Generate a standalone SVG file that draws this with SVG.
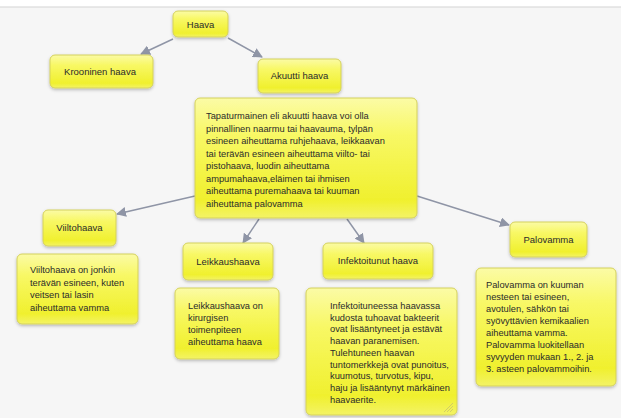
<svg xmlns="http://www.w3.org/2000/svg" width="621" height="418" viewBox="0 0 621 418">
  <defs>
    <linearGradient id="yel" x1="0" y1="0" x2="0" y2="1">
      <stop offset="0" stop-color="#fbfba6"/>
      <stop offset="0.3" stop-color="#f8f866"/>
      <stop offset="0.85" stop-color="#f0f02e"/>
      <stop offset="1" stop-color="#f3f366"/>
    </linearGradient>
    <filter id="sh" x="-10%" y="-10%" width="120%" height="130%">
      <feDropShadow dx="0" dy="1.5" stdDeviation="1.5" flood-color="#000" flood-opacity="0.25"/>
    </filter>
    <marker id="arr" viewBox="0 0 10 10" refX="9" refY="5" markerWidth="10" markerHeight="10" markerUnits="userSpaceOnUse" orient="auto">
      <path d="M0,0 L10,5 L0,10 z" fill="#8f95a6"/>
    </marker>
  </defs>
  <style>
    .box { fill: url(#yel); stroke: #d4d15c; stroke-width: 1; filter: url(#sh); }
    .t { font-family: "Liberation Sans", Arial, sans-serif; font-size: 9.3px; fill: #2b2b2b; }
    .h { font-family: "Liberation Sans", Arial, sans-serif; font-size: 9.5px; fill: #2b2b2b; text-anchor: middle; }
    .c { stroke: #8f95a6; stroke-width: 1.5; fill: none; marker-end: url(#arr); }
  </style>

  <rect x="0" y="0" width="621" height="418" fill="#ffffff"/>
  <rect x="0" y="7" width="621" height="411" fill="#f6f6f6"/>
  <line x1="0" y1="7" x2="621" y2="7" stroke="#d4d4d4" stroke-width="1.2"/>

  <g id="connectors">
    <line class="c" x1="173" y1="39" x2="141" y2="54"/>
    <line class="c" x1="228" y1="38" x2="262" y2="57"/>
    <line class="c" x1="195" y1="196" x2="117" y2="214"/>
    <line class="c" x1="259" y1="219" x2="243" y2="243"/>
    <line class="c" x1="347" y1="219" x2="364" y2="243"/>
    <line class="c" x1="417" y1="196" x2="509" y2="225"/>
  </g>

  <g id="haava">
    <rect class="box" x="173" y="11" width="55" height="26" rx="5"/>
    <text class="h" x="200.5" y="27.5">Haava</text>
  </g>

  <g id="krooninen">
    <rect class="box" x="50" y="55" width="103" height="33" rx="5"/>
    <text class="h" x="100" y="75">Krooninen haava</text>
  </g>

  <g id="akuutti">
    <rect class="box" x="258" y="59" width="83" height="34" rx="5"/>
    <text class="h" x="299.5" y="79">Akuutti haava</text>
  </g>

  <g id="akuutti-kuvaus">
    <rect class="box" x="195" y="98" width="222" height="120" rx="5"/>
    <text class="t" x="206" y="119">Tapaturmainen eli akuutti haava voi olla</text>
    <text class="t" x="206" y="131.5">pinnallinen naarmu tai haavauma, tylpän</text>
    <text class="t" x="206" y="144">esineen aiheuttama ruhjehaava, leikkaavan</text>
    <text class="t" x="206" y="156.5">tai terävän esineen aiheuttama viilto- tai</text>
    <text class="t" x="206" y="169">pistohaava, luodin aiheuttama</text>
    <text class="t" x="206" y="181.5">ampumahaava,eläimen tai ihmisen</text>
    <text class="t" x="206" y="194">aiheuttama puremahaava tai kuuman</text>
    <text class="t" x="206" y="206.5">aiheuttama palovamma</text>
  </g>

  <g id="viiltohaava">
    <rect class="box" x="43" y="210" width="73" height="36" rx="5"/>
    <text class="h" x="79.5" y="231">Viiltohaava</text>
  </g>

  <g id="viiltohaava-kuvaus">
    <rect class="box" x="17" y="254" width="121" height="70" rx="5"/>
    <text class="t" x="30" y="273">Viiltohaava on jonkin</text>
    <text class="t" x="30" y="285.5">terävän esineen, kuten</text>
    <text class="t" x="30" y="298">veitsen tai lasin</text>
    <text class="t" x="30" y="310.5">aiheuttama vamma</text>
  </g>

  <g id="leikkaushaava">
    <rect class="box" x="183" y="243" width="90" height="37" rx="5"/>
    <text class="h" x="228" y="264.5">Leikkaushaava</text>
  </g>

  <g id="leikkaushaava-kuvaus">
    <rect class="box" x="175" y="288" width="104" height="71" rx="5"/>
    <text class="t" x="188" y="309">Leikkaushaava on</text>
    <text class="t" x="188" y="321">kirurgisen</text>
    <text class="t" x="188" y="333">toimenpiteen</text>
    <text class="t" x="188" y="345">aiheuttama haava</text>
  </g>

  <g id="infektoitunut">
    <rect class="box" x="323" y="243" width="110" height="36" rx="5"/>
    <text class="h" x="378" y="264">Infektoitunut haava</text>
  </g>

  <g id="infektoitunut-kuvaus">
    <rect class="box" x="306" y="288" width="151" height="127" rx="5"/>
    <text class="t" x="330" y="309">Infektoituneessa haavassa</text>
    <text class="t" x="330" y="320.7">kudosta tuhoavat bakteerit</text>
    <text class="t" x="330" y="332.4">ovat lisääntyneet ja estävät</text>
    <text class="t" x="330" y="344.1">haavan paranemisen.</text>
    <text class="t" x="330" y="355.8">Tulehtuneen haavan</text>
    <text class="t" x="330" y="367.5">tuntomerkkejä ovat punoitus,</text>
    <text class="t" x="330" y="379.2">kuumotus, turvotus, kipu,</text>
    <text class="t" x="330" y="390.9">haju ja lisääntynyt märkäinen</text>
    <text class="t" x="330" y="402.6">haavaerite.</text>
    <g stroke="#c9c46a" stroke-width="0.8">
      <line x1="444" y1="412" x2="453" y2="403"/>
      <line x1="447" y1="412" x2="453" y2="406"/>
      <line x1="450" y1="412" x2="453" y2="409"/>
    </g>
  </g>

  <g id="palovamma">
    <rect class="box" x="510" y="222" width="77" height="35" rx="5"/>
    <text class="h" x="548.5" y="243">Palovamma</text>
  </g>

  <g id="palovamma-kuvaus">
    <rect class="box" x="476" y="268" width="140" height="118" rx="5"/>
    <text class="t" x="486" y="288">Palovamma on kuuman</text>
    <text class="t" x="486" y="300">nesteen tai esineen,</text>
    <text class="t" x="486" y="312">avotulen, sähkön tai</text>
    <text class="t" x="486" y="324">syövyttävien kemikaalien</text>
    <text class="t" x="486" y="336">aiheuttama vamma.</text>
    <text class="t" x="486" y="348">Palovamma luokitellaan</text>
    <text class="t" x="486" y="360">syvyyden mukaan 1., 2. ja</text>
    <text class="t" x="486" y="372">3. asteen palovammoihin.</text>
  </g>
</svg>
